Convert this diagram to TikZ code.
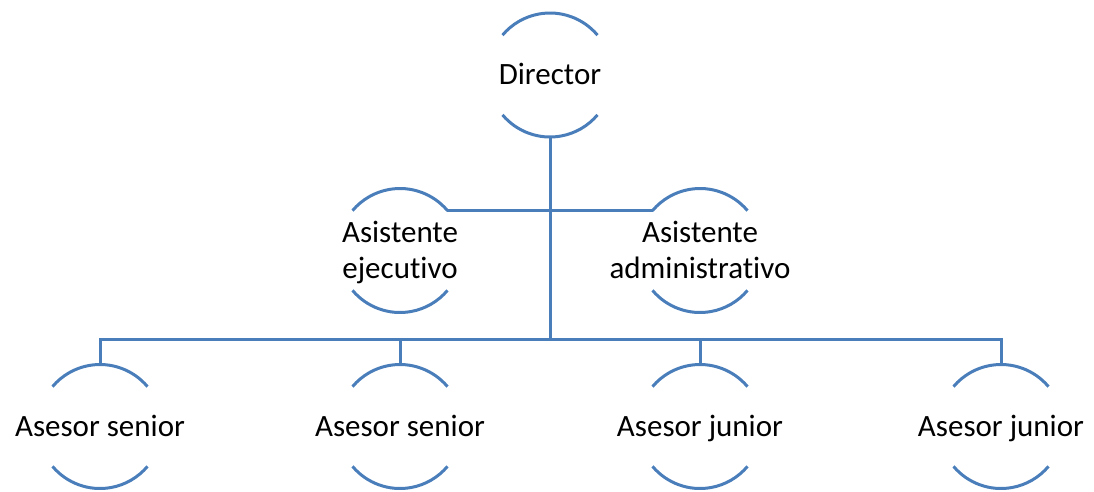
\documentclass[tikz,border=0pt]{standalone}
\usepackage{fontspec}
\setmainfont{Carlito}[Ligatures=NoCommon]
\definecolor{orgblue}{RGB}{74,126,187}
\begin{document}
\begin{tikzpicture}[x=1pt, y=1pt,
                    every node/.style={inner sep=0pt, outer sep=0pt},
                    ring/.style={circle, minimum size=124pt},
                    txt/.style={anchor=base, font=\fontsize{31}{36}\selectfont, align=center},
                    orgline/.style={draw=orgblue, line width=3pt}]
  \useasboundingbox (0,0) rectangle (1094,-491);
  % ring shapes
  \node[ring] (dir) at (550,-75) {};
  \node[ring] (ae) at (400,-250.5) {};
  \node[ring] (aa) at (700,-250.5) {};
  \node[ring] (s1) at (100,-426.5) {};
  \node[ring] (s2) at (400,-426.5) {};
  \node[ring] (j1) at (700,-426.5) {};
  \node[ring] (j2) at (1001,-426.5) {};
  \foreach \n in {dir,ae,aa,s1,s2,j1,j2}
    \draw[orgline] (\n.40) arc[start angle=40, end angle=140, radius=62pt]
                   (\n.220) arc[start angle=220, end angle=320, radius=62pt];
  % labels
  \node[txt, yshift=-9.5pt] (dir-t) at (dir.center) {Director};
  \node[txt, yshift=-28pt] (ae-t) at (ae.center) {Asistente\\ejecutivo};
  \node[txt, yshift=-28pt] (aa-t) at (aa.center) {Asistente\\administrativo};
  \node[txt, yshift=-10pt] (s1-t) at (s1.center) {Asesor senior};
  \node[txt, yshift=-10pt] (s2-t) at (s2.center) {Asesor senior};
  \node[txt, yshift=-10pt] (j1-t) at (j1.center) {Asesor junior};
  \node[txt, yshift=-10pt] (j2-t) at (j2.center) {Asesor junior};
  % connectors
  \coordinate (bus) at (550,-339);
  \draw[orgline] (dir.south) -- (bus);
  \draw[orgline] (ae.40) -- (aa.140);
  \draw[orgline] (s1.north) |- (bus) -| (j2.north);
  \draw[orgline] (s2.north) -- (s2.north |- bus);
  \draw[orgline] (j1.north) -- (j1.north |- bus);
\end{tikzpicture}
\end{document}
